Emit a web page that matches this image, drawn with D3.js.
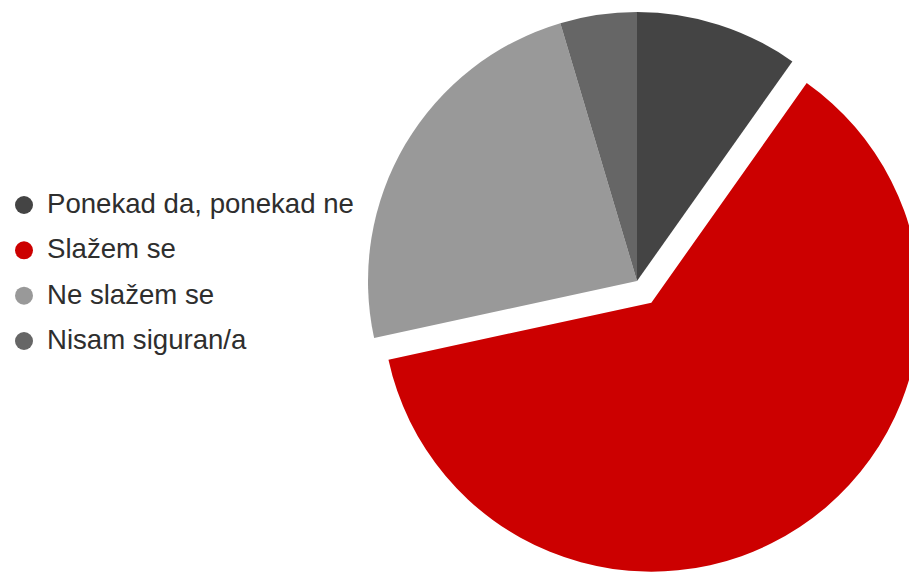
<!DOCTYPE html>
<html><head><meta charset="utf-8">
<script src="https://cdn.jsdelivr.net/npm/d3@7"></script>
<style>html,body{margin:0;padding:0;background:#fff;}svg{display:block;}</style>
</head><body>
<svg id="c" width="909" height="575"></svg>
<script>
const categories = ["Ponekad da, ponekad ne", "Slažem se", "Ne slažem se", "Nisam siguran/a"];
const values = [9.8, 61.8, 23.8, 4.6];
const colors = ["#444444", "#cc0000", "#999999", "#666666"];
const exploded = [false, true, false, false];

const svg = d3.select("#c");
const cx = 637, cy = 281, r = 269, off = 26;
const pie = d3.pie().sort(null).value(d => d.v);
const arcs = pie(categories.map((c, i) => ({c, v: values[i], i})));
const arc = d3.arc().innerRadius(0).outerRadius(r);
const g = svg.append("g").attr("transform", `translate(${cx},${cy})`);
g.selectAll("path").data(arcs).join("path")
  .attr("d", arc)
  .attr("fill", d => colors[d.data.i])
  .attr("transform", d => {
    if (!exploded[d.data.i]) return null;
    const a = (d.startAngle + d.endAngle) / 2;
    return `translate(${Math.sin(a) * off},${-Math.cos(a) * off})`;
  });

const y = d3.scalePoint().domain(categories).range([205, 341]);
const lg = svg.append("g");
categories.forEach((c, i) => {
  lg.append("circle").attr("cx", 24).attr("cy", y(c)).attr("r", 9).attr("fill", colors[i]);
  lg.append("text").attr("x", 47).attr("y", y(c) + 8)
    .attr("font-family", "'Liberation Sans', Arial, sans-serif").attr("font-size", 27.6)
    .attr("fill", "#2e2e2e").text(c);
});
</script>
</body></html>
